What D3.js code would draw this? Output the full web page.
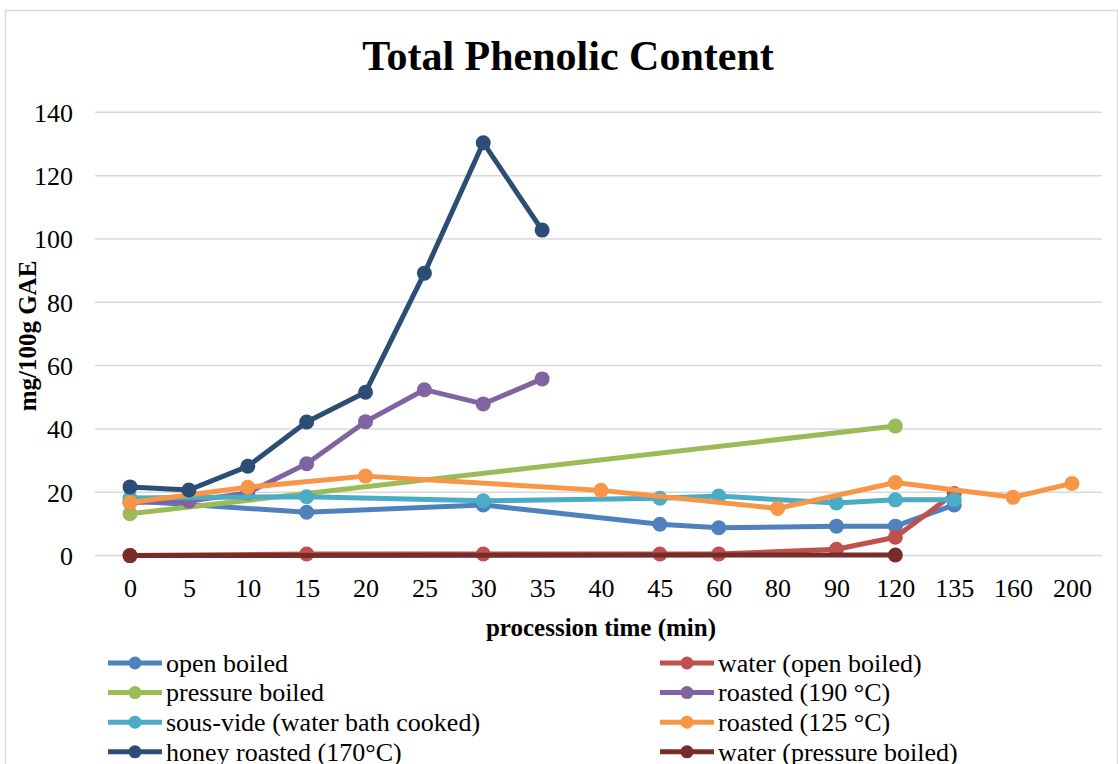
<!DOCTYPE html>
<html>
<head>
<meta charset="utf-8">
<script src="https://cdn.jsdelivr.net/npm/d3@7"></script>
<style>
  body { margin: 0; background: #fff; }
  svg text { font-family: "Liberation Serif", "Times New Roman", serif; fill: #000; }
</style>
</head>
<body>
<script>
// categories on the x axis (min)
var times = ["0", "5", "10", "15", "20", "25", "30", "35", "40", "45", "60", "80", "90", "120", "135", "160", "200"];
var yTicks = [0, 20, 40, 60, 80, 100, 120, 140];

// series values, null where there is no point
var openBoiled      = [17.3, null, null, 13.7, null, null, 16.0, null, null, 9.9, 8.8, null, 9.3, 9.3, 16.0, null, null];
var waterOpen       = [0, null, null, 0.5, null, null, 0.5, null, null, 0.5, 0.5, null, 2.0, 5.8, 19.6, null, null];
var pressureBoiled  = [13.2, null, null, null, null, null, null, null, null, null, null, null, null, 40.9, null, null, null];
var roasted190      = [16.8, 17.2, 19.8, 29.0, 42.3, 52.4, 47.9, 55.8, null, null, null, null, null, null, null, null, null];
var sousVide        = [18.2, null, null, 18.6, null, null, 17.3, null, null, 18.1, 18.8, null, 16.6, 17.6, 17.6, null, null];
var roasted125      = [16.8, null, 21.6, null, 25.1, null, null, null, 20.6, null, null, 14.9, null, 23.1, null, 18.4, 22.8];
var honeyRoasted    = [21.7, 20.7, 28.2, 42.2, 51.6, 89.2, 130.4, 102.8, null, null, null, null, null, null, null, null, null];
var waterPressure   = [0, null, null, null, null, null, null, null, null, null, null, null, null, 0.2, null, null, null];

var seriesNames = ["open boiled", "water (open boiled)", "pressure boiled", "roasted (190 °C)",
   "sous-vide (water bath cooked)", "roasted (125 °C)", "honey roasted (170°C)", "water (pressure boiled)"];
var seriesValues = [openBoiled, waterOpen, pressureBoiled, roasted190, sousVide, roasted125, honeyRoasted, waterPressure];
var seriesColors = ["#4F81BD", "#C0504D", "#9BBB59", "#8064A2", "#4BACC6", "#F79646", "#2C4D75", "#772C2A"];

var width = 1118, height = 764;
var svg = d3.select("body").append("svg")
   .attr("width", width)
   .attr("height", height);

// chart frame
svg.append("rect")
   .attr("x", 5.5).attr("y", 10.5)
   .attr("width", 1112).attr("height", 780)
   .style("fill", "none")
   .style("stroke", "#d9d9d9")
   .style("stroke-width", 1.5);

var x = d3.scalePoint().domain(times).range([100.6, 1101.4]).padding(0.5);
var y = d3.scaleLinear().domain([0, 140]).range([555.6, 112.3]);

// gridlines
svg.append("g").selectAll("line")
   .data(yTicks)
   .enter().append("line")
   .attr("x1", 95).attr("x2", 1102)
   .attr("y1", function (d) { return y(d); })
   .attr("y2", function (d) { return y(d); })
   .style("stroke", "#d9d9d9")
   .style("stroke-width", 1.5);

// y axis labels
var yAxis = svg.append("g")
   .attr("transform", "translate(73,0)")
   .call(d3.axisLeft(y).tickValues(yTicks).tickSize(0).tickPadding(0));
yAxis.select(".domain").remove();
yAxis.selectAll("text")
   .style("font-size", "26px")
   .attr("dy", "0.34em");

// x axis labels
var xAxis = svg.append("g")
   .attr("transform", "translate(0,576)")
   .call(d3.axisBottom(x).tickSize(0).tickPadding(0));
xAxis.select(".domain").remove();
xAxis.selectAll("text")
   .style("font-size", "26px")
   .attr("dy", "0.8em");

// titles
svg.append("text")
   .attr("x", 568).attr("y", 70)
   .attr("text-anchor", "middle")
   .style("font-size", "42px")
   .style("font-weight", "bold")
   .text("Total Phenolic Content");

svg.append("text")
   .attr("x", 601).attr("y", 636)
   .attr("text-anchor", "middle")
   .style("font-size", "25px")
   .style("font-weight", "bold")
   .text("procession time (min)");

svg.append("text")
   .attr("transform", "translate(36,336) rotate(-90)")
   .attr("text-anchor", "middle")
   .style("font-size", "25px")
   .style("font-weight", "bold")
   .text("mg/100g GAE");

// lines and markers
var line = d3.line()
   .x(function (d) { return x(d.t); })
   .y(function (d) { return y(d.v); });

seriesValues.forEach(function (vals, i) {
   var pts = [];
   vals.forEach(function (v, j) {
      if (v !== null) { pts.push({t: times[j], v: v}); }
   });
   var g = svg.append("g").attr("class", "series" + i);
   g.append("path")
      .datum(pts)
      .attr("d", line)
      .style("fill", "none")
      .style("stroke", seriesColors[i])
      .style("stroke-width", 5)
      .style("stroke-linejoin", "round");
   g.selectAll("circle")
      .data(pts)
      .enter().append("circle")
      .attr("cx", function (d) { return x(d.t); })
      .attr("cy", function (d) { return y(d.v); })
      .attr("r", 7.5)
      .style("fill", seriesColors[i]);
});

// legend, two columns filled row by row
var legend = svg.append("g");
seriesNames.forEach(function (name, i) {
   var col = i % 2, row = Math.floor(i / 2);
   var lx = col === 0 ? 108 : 660;
   var ly = 663 + row * 29.6;
   var item = legend.append("g").attr("transform", "translate(" + lx + "," + ly + ")");
   item.append("line")
      .attr("x1", 0).attr("x2", 54)
      .style("stroke", seriesColors[i])
      .style("stroke-width", 5);
   item.append("circle")
      .attr("cx", 27).attr("r", 6.5)
      .style("fill", seriesColors[i]);
   item.append("text")
      .attr("x", 58).attr("dy", "0.34em")
      .style("font-size", "26px")
      .text(name);
});
</script>
</body>
</html>
